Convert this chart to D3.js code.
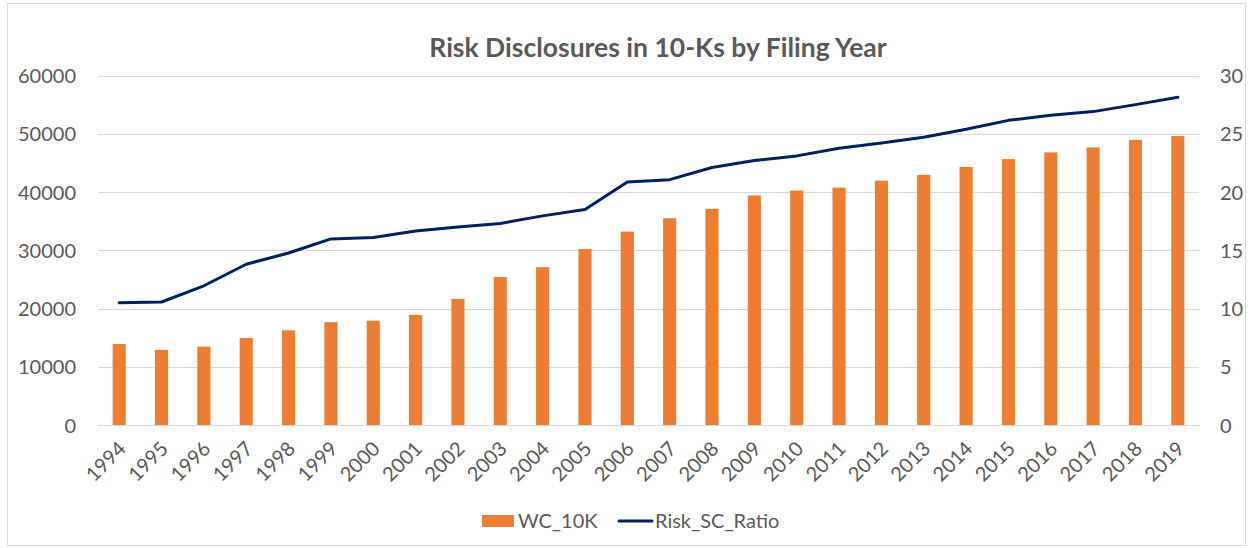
<!DOCTYPE html>
<html>
<head>
<meta charset="utf-8">
<script src="https://cdn.jsdelivr.net/npm/d3@7"></script>
<style>
  body { margin: 0; background: #fff; }
  svg text { font-family: Lato, "Open Sans", sans-serif; fill: #595959; }
</style>
</head>
<body>
<svg id="chart" width="1250" height="548"></svg>
<script>
var years = ['1994','1995','1996','1997','1998','1999','2000','2001','2002','2003','2004','2005','2006',
  '2007','2008','2009','2010','2011','2012','2013','2014','2015','2016','2017','2018','2019'];
var wc10k = [13900, 12900, 13450, 14950, 16250, 17650, 17900, 18900, 21650, 25400, 27100, 30200, 33200,
  35500, 37100, 39400, 40250, 40750, 41950, 42950, 44300, 45650, 46800, 47650, 48950, 49600];
var riskRatio = [10.5, 10.56, 11.95, 13.8, 14.76, 15.97, 16.1, 16.65, 17.0, 17.3, 17.95, 18.5, 20.86,
  21.06, 22.1, 22.7, 23.1, 23.75, 24.2, 24.7, 25.38, 26.15, 26.58, 26.9, 27.5, 28.13];
var leftTicks = [0, 10000, 20000, 30000, 40000, 50000, 60000];
var rightTicks = [0, 5, 10, 15, 20, 25, 30];

var width = 1250, height = 548;
var plotLeft = 98, plotRight = 1199, plotTop = 75.5, plotBottom = 425;

var svg = d3.select('#chart');

// outer border
svg.append('rect')
  .attr('x', 7.5).attr('y', 3.5)
  .attr('width', width - 12).attr('height', height - 6)
  .attr('fill', '#fff')
  .attr('stroke', '#d9d9d9');

var x = d3.scaleBand().domain(years).range([plotLeft, plotRight]).paddingInner(0.69).paddingOuter(0.345);
var y = d3.scaleLinear().domain([0, 60000]).range([plotBottom, plotTop]);
var y2 = d3.scaleLinear().domain([0, 30]).range([plotBottom, plotTop]);

// grid
svg.append('g')
  .selectAll('line')
  .data(leftTicks)
  .join('line')
  .attr('x1', plotLeft).attr('x2', plotRight)
  .attr('y1', d => Math.round(y(d)) + 0.5).attr('y2', d => Math.round(y(d)) + 0.5)
  .attr('stroke', '#d9d9d9')
  .attr('stroke-width', 1);

// left axis
var leftAxis = svg.append('g')
  .attr('transform', 'translate(' + (plotLeft - 22) + ',0)')
  .call(d3.axisLeft(y).tickValues(leftTicks).tickSize(0).tickPadding(0).tickFormat(d3.format('d')));
leftAxis.select('.domain').remove();
leftAxis.selectAll('text').attr('font-size', 20).attr('dy', '0.35em').style('fill', '#595959');

// right axis
var rightAxis = svg.append('g')
  .attr('transform', 'translate(' + (plotRight + 21) + ',0)')
  .call(d3.axisRight(y2).tickValues(rightTicks).tickSize(0).tickPadding(0));
rightAxis.select('.domain').remove();
rightAxis.selectAll('text').attr('font-size', 20).attr('dy', '0.35em').style('fill', '#595959');

// bars
svg.append('g')
  .selectAll('rect')
  .data(wc10k)
  .join('rect')
  .attr('x', (d, i) => x(years[i]))
  .attr('y', d => y(d))
  .attr('width', x.bandwidth())
  .attr('height', d => y(0) - y(d))
  .attr('fill', '#ed7d31');

// line
var line = d3.line()
  .x((d, i) => x(years[i]) + x.bandwidth() / 2)
  .y(d => y2(d));

svg.append('path')
  .datum(riskRatio)
  .attr('d', line)
  .attr('fill', 'none')
  .attr('stroke', '#002060')
  .attr('stroke-width', 3)
  .attr('stroke-linejoin', 'round')
  .attr('stroke-linecap', 'round');

// x labels
svg.append('g')
  .selectAll('text')
  .data(years)
  .join('text')
  .attr('transform', d => 'translate(' + (x(d) + x.bandwidth() / 2 + 3) + ',' + (plotBottom + 20) + ') rotate(-45)')
  .attr('text-anchor', 'end')
  .attr('dy', '0.35em')
  .attr('font-size', 20)
  .text(d => d);

// title
svg.append('text')
  .attr('x', 658)
  .attr('y', 57)
  .attr('text-anchor', 'middle')
  .attr('font-size', 26.5)
  .attr('font-weight', 'bold')
  .text('Risk Disclosures in 10-Ks by Filing Year');

// legend
var legend = svg.append('g');
legend.append('rect')
  .attr('x', 482).attr('y', 515)
  .attr('width', 32).attr('height', 12)
  .attr('fill', '#ed7d31');
legend.append('text')
  .attr('x', 518).attr('y', 521)
  .attr('dy', '0.35em')
  .attr('font-size', 20)
  .text('WC_10K');
legend.append('line')
  .attr('x1', 619).attr('x2', 652)
  .attr('y1', 521).attr('y2', 521)
  .attr('stroke', '#002060')
  .attr('stroke-width', 3)
  .attr('stroke-linecap', 'round');
legend.append('text')
  .attr('x', 655).attr('y', 521)
  .attr('dy', '0.35em')
  .attr('font-size', 20)
  .text('Risk_SC_Ratio');
</script>
</body>
</html>
